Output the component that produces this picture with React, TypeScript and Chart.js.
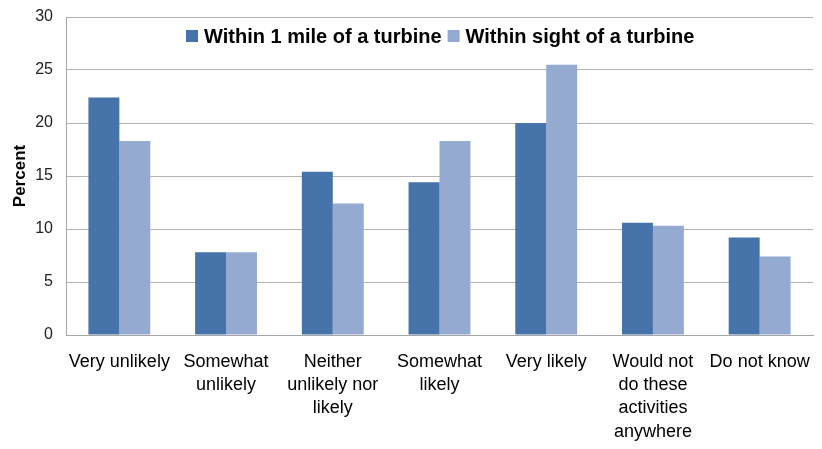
import React, { useEffect, useRef } from "react";
import { Chart, registerables } from "chart.js";

Chart.register(...registerables);

const categories: (string | string[])[] = [
  "Very unlikely",
  ["Somewhat", "unlikely"],
  ["Neither", "unlikely nor", "likely"],
  ["Somewhat", "likely"],
  "Very likely",
  ["Would not", "do these", "activities", "anywhere"],
  "Do not know",
];
const withinMile = [22.4, 7.8, 15.4, 14.4, 20.0, 10.6, 9.2];
const withinSight = [18.3, 7.8, 12.4, 18.3, 25.5, 10.3, 7.4];
const seriesNames = ["Within 1 mile of a turbine", "Within sight of a turbine"];
const yTicks = [0, 5, 10, 15, 20, 25, 30];

const FONT = "'Liberation Sans', Arial, sans-serif";

const legendPlugin = {
  id: "insideLegend",
  afterDraw(chart: any) {
    const ctx = chart.ctx;
    const area = chart.chartArea;
    ctx.save();
    ctx.font = `bold 20px ${FONT}`;
    ctx.textBaseline = "middle";
    const box = 12;
    const gapText = 6;
    const gapItem = 6;
    let x = area.left + 120;
    const y = area.top + 19;
    for (const d of chart.data.datasets) {
      ctx.fillStyle = d.backgroundColor;
      ctx.fillRect(x, y - box / 2, box, box);
      ctx.fillStyle = "#000";
      ctx.textAlign = "left";
      ctx.fillText(d.label, x + box + gapText, y + 1);
      x += box + gapText + ctx.measureText(d.label).width + gapItem;
    }
    ctx.restore();
  },
};

export default function App() {
  const ref = useRef<HTMLCanvasElement | null>(null);
  useEffect(() => {
    if (!ref.current) return;
    const chart = new Chart(ref.current, {
      type: "bar",
      data: {
        labels: categories,
        datasets: [
          { label: seriesNames[0], data: withinMile, backgroundColor: "#4673A9" },
          { label: seriesNames[1], data: withinSight, backgroundColor: "#95AAD1" },
        ],
      },
      plugins: [legendPlugin],
      options: {
        animation: false,
        responsive: false,
        devicePixelRatio: 1,
        layout: { padding: { top: 17, right: 9, left: 0, bottom: 0 } },
        plugins: { legend: { display: false }, tooltip: { enabled: false } },
        datasets: { bar: { categoryPercentage: 0.58, barPercentage: 1 } },
        scales: {
          x: {
            grid: { display: false, drawTicks: false },
            border: { display: true, color: "#a6a6a6" },
            ticks: {
              color: "#000",
              font: { family: FONT, size: 18, lineHeight: 1.3 },
              maxRotation: 0,
              autoSkip: false,
              padding: 15,
            },
            afterFit(scale: any) {
              scale.height = 449 - 335;
              scale.paddingLeft = 0;
              scale.paddingRight = 0;
            },
          },
          y: {
            min: 0,
            max: 30,
            afterBuildTicks(scale: any) {
              scale.ticks = yTicks.map((v) => ({ value: v }));
            },
            grid: { color: "#b3b3b3", drawTicks: false },
            border: { display: true, color: "#a6a6a6" },
            ticks: {
              color: "#222",
              font: { family: FONT, size: 16 },
              padding: 13,
            },
            title: {
              display: true,
              text: "Percent",
              color: "#000",
              font: { family: FONT, size: 17, weight: "bold" },
              padding: { top: 10, bottom: 0 },
            },
            afterFit(scale: any) {
              scale.width = 66;
              scale.paddingTop = 0;
              scale.paddingBottom = 0;
            },
          },
        },
      },
    } as any);
    return () => chart.destroy();
  }, []);
  return (
    <div style={{ position: "absolute", left: 0, top: 0, width: 822, height: 449, background: "#fff" }}>
      <canvas ref={ref} width={822} height={449} style={{ display: "block", width: 822, height: 449 }} />
    </div>
  );
}
